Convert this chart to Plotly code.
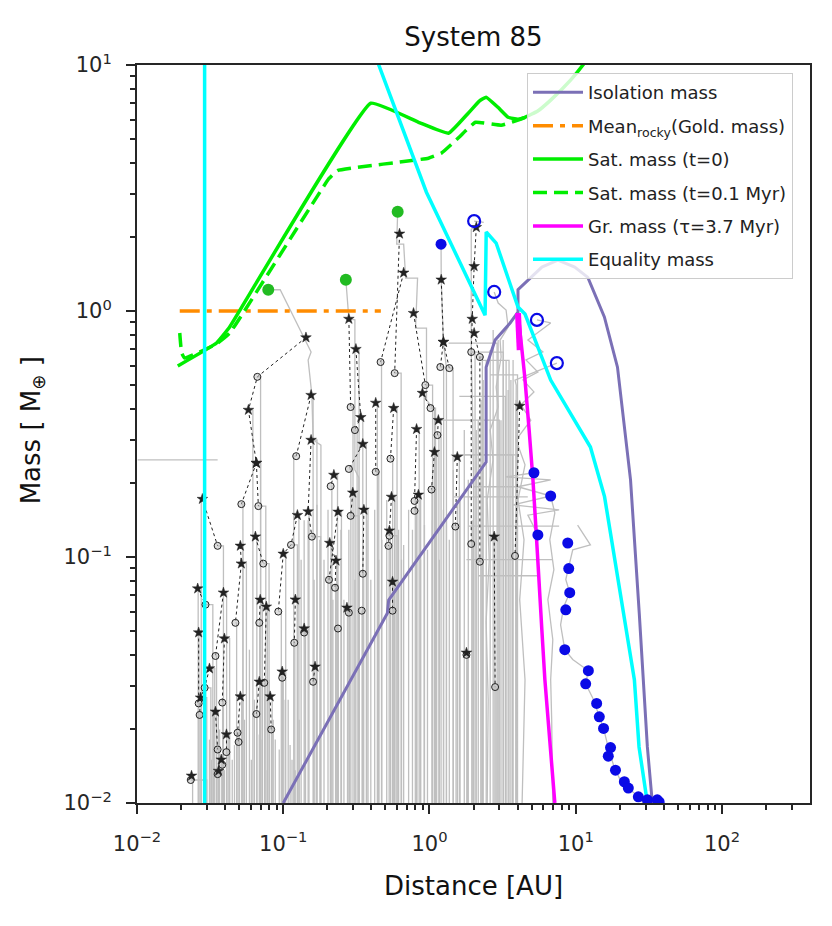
import plotly.graph_objects as go

# ---------------- theory curves ----------------
iso_a = [0.1, 0.515, 0.526, 2.44, 2.44, 2.81, 3.56, 4.03, 4.03, 4.86, 5.87, 7.55, 9.84, 12.1, 15.7, 19.3, 23.7, 27.2, 30.9, 33.4]
iso_m = [0.01, 0.0591, 0.0668, 0.243, 0.591, 0.762, 0.894, 0.99, 1.22, 1.36, 1.509, 1.61, 1.509, 1.37, 0.946, 0.591, 0.206, 0.059, 0.0169, 0.01]

gold_a = [0.0196, 0.465]
gold_m = [1.0, 1.0]

sat0_a = [0.019, 0.035, 0.043, 0.397, 0.842, 1.35, 1.84, 2.2, 2.44, 2.94, 3.45, 4.03, 4.50, 5.5, 6.74, 9.22, 11.2, 13.5]
sat0_m = [0.598, 0.741, 0.861, 6.99, 5.85, 5.28, 6.37, 7.15, 7.40, 6.73, 6.13, 6.02, 6.13, 6.5, 7.20, 8.68, 10.0, 11.8]

sat1_a = [0.0196, 0.0202, 0.0212, 0.035, 0.043, 0.205, 0.235, 0.984, 1.21, 1.6, 2.06, 3.09, 4.03, 4.50]
sat1_m = [0.814, 0.675, 0.644, 0.735, 0.813, 3.45, 3.72, 4.18, 4.39, 5.1, 5.85, 5.69, 5.97, 6.13]

gr_a = [4.03, 4.50, 5.10, 5.59, 6.153, 7.196]
gr_m = [0.98, 0.525, 0.206, 0.0831, 0.0317, 0.01]
gr_thick_a = [4.03, 4.14]
gr_thick_m = [0.98, 0.694]

eq_wall_a = [0.029, 0.029]
eq_wall_m = [0.008, 12.0]
eq_a = [0.43, 0.450, 0.953, 2.40, 2.443, 2.857, 4.03, 4.50, 6.74, 9.22, 12.6, 15.74, 19.3, 25.18, 27.1, 30.9]
eq_m = [11.0, 10.0, 3.04, 0.962, 2.094, 1.889, 1.037, 0.972, 0.524, 0.385, 0.280, 0.176, 0.0831, 0.0317, 0.0169, 0.01]

# ---------------- final planets ----------------
green_a = [0.079, 0.268, 0.606]
green_m = [1.22, 1.34, 2.53]

blue_open_a = [2.02, 2.77, 5.43, 7.43]
blue_open_m = [2.32, 1.195, 0.92, 0.614]

blue_a = [1.20, 5.18, 6.74, 5.51, 8.82, 8.96, 9.10, 8.55, 8.42, 12.2, 11.7, 13.9, 14.5, 15.5, 17.3, 16.7, 18.7, 21.5, 22.9, 26.8, 30.9, 36.1, 37.2]
blue_m = [1.87, 0.22, 0.177, 0.123, 0.114, 0.0897, 0.0716, 0.061, 0.042, 0.0345, 0.0305, 0.0254, 0.0224, 0.0201, 0.0168, 0.0155, 0.0136, 0.0122, 0.0115, 0.0106, 0.0103, 0.0103, 0.0101]

# ---------------- embryo chains: (distance, mass, symbol, track start distance) ----------------
chains = [
    [(0.143, 0.78, 's', None), (0.0665, 0.54, 'c', 0.070), (0.0578, 0.396, 's', 0.062), (0.0655, 0.241, 's', 0.070), (0.0517, 0.164, 'c', 0.053)],
    [(0.0655, 0.241, 's', None), (0.0676, 0.161, 'c', 0.076)],
    [(0.155, 0.455, 's', 0.160), (0.1226, 0.257, 'c', 0.118)],
    [(0.155, 0.299, 's', 0.170), (0.148, 0.153, 's', 0.150), (0.157, 0.121, 'c', 0.180)],
    [(0.125, 0.148, 's', 0.128), (0.113, 0.112, 'c', 0.125), (0.1, 0.103, 's', 0.104), (0.0925, 0.060, 'c', 0.097)],
    [(0.028, 0.172, 's', 0.0275), (0.0356, 0.111, 'c', 0.039)],
    [(0.0645, 0.121, 's', 0.066), (0.073, 0.094, 'c', 0.080)],
    [(0.0509, 0.111, 's', 0.053), (0.0517, 0.094, 's', 0.056), (0.0471, 0.054, 'c', 0.048)],
    [(0.026, 0.0744, 's', 0.0262), (0.0294, 0.064, 'c', 0.033)],
    [(0.039, 0.0716, 's', 0.041), (0.0344, 0.0396, 'c', 0.035)],
    [(0.0696, 0.067, 's', 0.072), (0.0686, 0.054, 'c', 0.069)],
    [(0.0766, 0.0628, 's', 0.078), (0.0742, 0.0308, 'c', 0.0745)],
    [(0.0264, 0.0493, 's', 0.0265), (0.0264, 0.0254, 'c', 0.0275)],
    [(0.0396, 0.0466, 's', 0.043), (0.0383, 0.0256, 'c', 0.0385)],
    [(0.0313, 0.0352, 's', 0.034), (0.029, 0.0294, 'c', 0.032), (0.0272, 0.0268, 's', 0.030), (0.0268, 0.0228, 'c', 0.027)],
    [(0.0344, 0.0235, 's', 0.036), (0.0356, 0.0165, 'c', 0.0365)],
    [(0.0509, 0.0271, 's', 0.052), (0.0487, 0.0193, 'c', 0.049), (0.0495, 0.0177, 'c', 0.050)],
    [(0.0686, 0.0311, 's', 0.070), (0.0655, 0.023, 'c', 0.066)],
    [(0.0984, 0.0342, 's', 0.099), (0.0984, 0.0323, 'c', 0.100)],
    [(0.0814, 0.0271, 's', 0.084), (0.0827, 0.0199, 'c', 0.083)],
    [(0.0409, 0.019, 's', 0.042), (0.0409, 0.0161, 'c', 0.041)],
    [(0.0377, 0.015, 's', 0.038), (0.0383, 0.0143, 'c', 0.0385)],
    [(0.0361, 0.0135, 's', 0.0362), (0.0356, 0.0131, 'c', 0.0358)],
    [(0.0236, 0.0129, 's', 0.024), (0.0233, 0.0124, 'c', 0.030)],
    [(0.139, 0.0512, 's', 0.141), (0.139, 0.0493, 'c', 0.142)],
    [(0.121, 0.0671, 's', 0.125), (0.119, 0.0448, 'c', 0.120)],
    [(0.165, 0.0358, 's', 0.168), (0.160, 0.0311, 'c', 0.162)],
    [(0.281, 0.928, 's', None), (0.289, 0.407, 'c', 0.300)],
    [(0.314, 0.70, 's', 0.330), (0.339, 0.370, 's', 0.350), (0.309, 0.328, 'c', 0.320)],
    [(0.624, 2.06, 's', None), (0.578, 0.559, 'c', 0.640)],
    [(0.666, 1.43, 's', None), (0.463, 0.62, 'c', 0.470)],
    [(0.778, 0.98, 's', None), (0.937, 0.50, 'c', 1.05)],
    [(0.895, 0.464, 's', 0.92), (1.016, 0.403, 'c', 1.10)],
    [(0.429, 0.423, 's', 0.44), (0.429, 0.222, 'c', 0.45)],
    [(0.569, 0.403, 's', 0.60), (0.541, 0.251, 'c', 0.56)],
    [(1.15, 0.36, 's', 1.2), (1.134, 0.313, 'c', 1.16)],
    [(1.081, 0.267, 's', 1.12), (1.032, 0.188, 'c', 1.04)],
    [(1.203, 1.34, 's', None), (1.245, 0.748, 's', None), (1.186, 0.592, 'c', 1.25)],
    [(1.245, 0.748, 's', None), (1.366, 0.586, 'c', 1.45)],
    [(2.09, 2.19, 's', None), (2.02, 1.52, 's', None), (1.96, 0.928, 's', None), (1.93, 0.681, 'c', 2.05), (1.93, 0.113, 'c', 1.95)],
    [(2.02, 0.813, 's', None), (2.21, 0.650, 'c', 2.3), (2.21, 0.0957, 'c', 2.25)],
    [(1.55, 0.255, 's', 1.6), (1.503, 0.133, 'c', 1.52)],
    [(4.14, 0.411, 's', None), (3.846, 0.101, 'c', 3.9)],
    [(2.77, 0.121, 's', 2.8), (2.81, 0.0296, 'c', 2.85)],
    [(1.79, 0.0408, 's', 1.8), (1.79, 0.040, 'c', 1.82)],
    [(0.350, 0.288, 's', 0.37), (0.281, 0.228, 'c', 0.29)],
    [(0.222, 0.2155, 's', 0.235), (0.211, 0.194, 'c', 0.215)],
    [(0.299, 0.1825, 's', 0.31), (0.289, 0.147, 'c', 0.33)],
    [(0.237, 0.1526, 's', 0.25), (0.2055, 0.0808, 'c', 0.21)],
    [(0.356, 0.1555, 's', 0.38), (0.35, 0.0855, 'c', 0.355)],
    [(0.55, 0.1755, 's', 0.58), (0.532, 0.128, 's', 0.54), (0.532, 0.122, 'c', 0.6), (0.524, 0.111, 'c', 0.53)],
    [(0.816, 0.331, 's', 0.85), (0.79, 0.169, 'c', 0.8)],
    [(0.84, 0.179, 's', 0.87), (0.79, 0.154, 'c', 0.82)],
    [(0.208, 0.114, 's', 0.212), (0.2294, 0.0966, 's', 0.232), (0.226, 0.075, 'c', 0.228)],
    [(0.559, 0.0793, 's', 0.565), (0.559, 0.0605, 'c', 0.562)],
    [(0.2726, 0.0622, 's', 0.275), (0.281, 0.0594, 'c', 0.284)],
    [(0.344, 0.0605, 'c', 0.346)],
    [(0.2367, 0.0512, 'c', 0.238)],
]

# growth tracks that rise at a0 and migrate inward to (a1, m1)
tall_a0 = [2.9, 3.2, 3.5, 3.0, 3.7, 4.0, 3.3]
tall_a1 = [1.35, 1.9, 2.3, 1.2, 1.4, 2.6, 1.6]
tall_m1 = [0.74, 0.68, 0.63, 0.36, 0.26, 0.55, 0.45]

# plain vertical growth tracks (distance, top mass)
filler_a = [0.0313, 0.0334, 0.0429, 0.0448, 0.0543, 0.0587, 0.0718, 0.0803, 0.0882, 0.1081, 0.1148, 0.1285,
            0.139, 0.170, 0.190, 0.248, 0.260, 0.329, 0.373, 0.397, 0.472, 0.510, 0.615, 0.666, 0.720,
            0.868, 0.924, 1.099, 1.168, 1.306, 1.456, 1.619, 1.730, 2.155, 2.33, 2.60, 3.19, 3.45, 3.73,
            0.1325, 0.148, 0.1625, 0.178, 0.2024, 0.2186, 0.2367, 0.281, 0.309, 0.350, 0.422, 0.450,
            0.543, 0.578, 0.644, 0.765, 0.816, 0.969, 1.047, 1.245, 1.366, 1.551, 1.842, 1.959, 2.089,
            2.253, 2.443, 2.725, 2.947, 3.082, 3.342, 3.604, 3.908,
            0.0323, 0.0367, 0.0396, 0.0464, 0.0502, 0.0605, 0.0635, 0.0686, 0.0778, 0.0854, 0.0939,
            0.1031, 0.1114, 0.1206]
filler_m = [0.0181, 0.0239, 0.0263, 0.0150, 0.0218, 0.042, 0.0181, 0.0317, 0.0181, 0.0263, 0.015, 0.0218,
            0.141, 0.163, 0.0975, 0.129, 0.0671, 0.102, 0.141, 0.0809, 0.1176, 0.1706, 0.129, 0.112, 0.1555,
            0.0975, 0.135, 0.1706, 0.0975, 0.141, 0.226, 0.1706, 0.328, 0.360, 0.524, 0.694, 0.762, 0.477, 0.632,
            0.0975, 0.141, 0.0809, 0.1176, 0.1555, 0.0671, 0.0975, 0.129, 0.0809, 0.1176, 0.1555, 0.0975,
            0.112, 0.1706, 0.0975, 0.129, 0.163, 0.107, 0.141, 0.1555, 0.1176, 0.1706, 0.206, 0.141, 0.328,
            0.435, 0.632, 0.837, 0.762, 0.360, 0.632, 0.524, 0.435,
            0.0150, 0.0199, 0.0136, 0.0172, 0.0218, 0.0150, 0.0263, 0.0190, 0.0136, 0.0218, 0.0165,
            0.0263, 0.0172, 0.0136]

# horizontal migration segments (mass, from, to)
horiz_m = [0.248, 0.26, 0.193, 0.1755, 0.1334, 0.0975, 0.0839]
horiz_a0 = [0.0101, 1.41, 2.0, 1.46, 1.85, 1.79, 2.16]
horiz_a1 = [0.0356, 4.03, 4.03, 4.7, 7.7, 6.97, 5.5]

# collision / migration histories of the final planets
planet_tracks = [
    [(0.079, 1.22), (0.0953, 1.22), (0.155, 0.681), (0.148, 0.632), (0.157, 0.455), (0.160, 0.299), (0.181, 0.285), (0.181, 0.0095)],
    [(0.268, 1.34), (0.281, 0.928), (0.309, 0.92), (0.309, 0.226), (0.329, 0.21), (0.329, 0.0095)],
    [(0.606, 2.53), (0.597, 1.87), (0.666, 1.87), (0.687, 1.36), (0.829, 1.36), (0.803, 0.852), (0.954, 0.852), (0.954, 0.435), (1.081, 0.396), (1.081, 0.0095)],
    [(1.20, 1.87), (1.203, 1.34), (1.245, 0.748), (1.306, 0.586), (1.306, 0.0095)],
    [(2.02, 2.32), (2.35, 2.29)],
    [(2.09, 2.19), (1.93, 2.15), (1.93, 1.55), (1.93, 0.68), (1.97, 0.40), (2.0, 0.20), (2.0, 0.0095)],
    [(2.77, 1.195), (2.95, 1.077), (3.34, 1.009), (3.45, 0.86), (3.04, 0.762), (3.09, 0.65), (2.857, 0.491), (2.95, 0.407), (2.60, 0.328), (2.72, 0.248), (2.48, 0.1706), (2.56, 0.0975), (2.44, 0.0546), (2.52, 0.0263), (2.48, 0.0095)],
    [(5.43, 0.92), (6.74, 0.894), (4.71, 0.762), (5.96, 0.682), (4.57, 0.632), (5.51, 0.565), (4.36, 0.524), (5.18, 0.469), (4.22, 0.415), (4.93, 0.360), (3.91, 0.299), (4.50, 0.237), (4.03, 0.1706), (4.43, 0.1176), (4.14, 0.0671), (4.50, 0.0317), (4.29, 0.0095)],
    [(7.43, 0.614), (6.63, 0.597), (3.846, 0.524), (3.92, 0.50), (3.90, 0.30), (3.95, 0.0095)],
    [(5.18, 0.22), (3.289, 0.2115), (6.74, 0.206), (4.03, 0.193), (6.74, 0.177), (3.73, 0.163), (7.70, 0.1555), (4.71, 0.148), (5.51, 0.123)],
    [(10.3, 0.1347), (12.6, 0.112), (9.54, 0.107), (8.96, 0.0897), (8.55, 0.081), (9.10, 0.0716), (8.28, 0.0628), (7.88, 0.053), (8.42, 0.042), (9.54, 0.0383), (12.2, 0.0345), (11.7, 0.0305), (13.25, 0.0263), (14.5, 0.0224), (15.5, 0.0201), (16.7, 0.0168), (18.1, 0.0143), (19.9, 0.0126), (22.9, 0.0115), (26.8, 0.0106), (30.9, 0.0095)],
    [(6.74, 0.177), (7.196, 0.151), (6.65, 0.1176), (7.09, 0.0888), (6.45, 0.0671), (6.97, 0.0461), (6.74, 0.0317), (6.85, 0.0218), (6.97, 0.0095)],
]

GREY = "#bfbfbf"
FLOOR = 0.0095

fig = go.Figure()

# grey growth tracks (vertical then horizontal)
vx, vy = [], []
for ch in chains:
    for a, m, s, a0 in ch:
        if a0 is not None:
            vx += [a0, a, None]
            vy += [FLOOR, m, None]
for a0, a1, m1 in zip(tall_a0, tall_a1, tall_m1):
    vx += [a0, a1, None]
    vy += [FLOOR, m1, None]
fig.add_trace(go.Scatter(x=vx, y=vy, mode="lines", line=dict(color=GREY, width=1.3, shape="vh"),
                         hoverinfo="skip", showlegend=False))

lx, ly = [], []
for a, m in zip(filler_a, filler_m):
    lx += [a, a, None]
    ly += [FLOOR, m, None]
for m, a0, a1 in zip(horiz_m, horiz_a0, horiz_a1):
    lx += [a0, a1, None]
    ly += [m, m, None]
for tr in planet_tracks:
    for a, m in tr:
        lx.append(a)
        ly.append(m)
    lx.append(None)
    ly.append(None)
fig.add_trace(go.Scatter(x=lx, y=ly, mode="lines", line=dict(color=GREY, width=1.3),
                         hoverinfo="skip", showlegend=False))

# dotted chains
dx, dy = [], []
for ch in chains:
    if len(ch) > 1:
        for a, m, s, a0 in ch:
            dx.append(a)
            dy.append(m)
        dx.append(None)
        dy.append(None)
fig.add_trace(go.Scatter(x=dx, y=dy, mode="lines", line=dict(color="#222222", width=1, dash="dot"),
                         hoverinfo="skip", showlegend=False))

star_a = [p[0] for ch in chains for p in ch if p[2] == 's']
star_m = [p[1] for ch in chains for p in ch if p[2] == 's']
circ_a = [p[0] for ch in chains for p in ch if p[2] == 'c']
circ_m = [p[1] for ch in chains for p in ch if p[2] == 'c']
fig.add_trace(go.Scatter(x=circ_a, y=circ_m, mode="markers",
                         marker=dict(symbol="circle", size=7, color="rgba(190,190,190,0.5)",
                                     line=dict(color="#222222", width=1)),
                         hoverinfo="skip", showlegend=False))
fig.add_trace(go.Scatter(x=star_a, y=star_m, mode="markers",
                         marker=dict(symbol="star", size=8, color="#222222", line=dict(color="#222222", width=0.5)),
                         hoverinfo="skip", showlegend=False))

# theory curves (legend)
fig.add_trace(go.Scatter(x=iso_a, y=iso_m, mode="lines", name="Isolation mass", legendgroup="g1",
                         line=dict(color="#7b70b6", width=3)))
fig.add_trace(go.Scatter(x=gold_a, y=gold_m, mode="lines", name="Mean<sub>rocky</sub>(Gold. mass)", legendgroup="g2",
                         line=dict(color="#ff8c00", width=3.5, dash="20px,7px,5px,7px")))
fig.add_trace(go.Scatter(x=sat0_a, y=sat0_m, mode="lines", name="Sat. mass (t=0)", legendgroup="g3",
                         line=dict(color="#00ee00", width=3.5, shape="spline", smoothing=0.3)))
fig.add_trace(go.Scatter(x=sat1_a, y=sat1_m, mode="lines", name="Sat. mass (t=0.1 Myr)", legendgroup="g4",
                         line=dict(color="#00ee00", width=3.5, dash="14px,7px", shape="spline", smoothing=0.3)))
fig.add_trace(go.Scatter(x=gr_a, y=gr_m, mode="lines", name="Gr. mass (τ=3.7 Myr)", legendgroup="g5",
                         line=dict(color="#ff00ff", width=3.5, shape="spline", smoothing=0.5)))
fig.add_trace(go.Scatter(x=gr_thick_a, y=gr_thick_m, mode="lines", showlegend=False, legendgroup="g5",
                         line=dict(color="#ff00ff", width=6), hoverinfo="skip"))
fig.add_trace(go.Scatter(x=eq_a, y=eq_m, mode="lines", name="Equality mass", legendgroup="g6",
                         line=dict(color="#00ffff", width=3.5)))
fig.add_trace(go.Scatter(x=eq_wall_a, y=eq_wall_m, mode="lines", showlegend=False, legendgroup="g6",
                         line=dict(color="#00ffff", width=3.5), hoverinfo="skip"))

# final planets
fig.add_trace(go.Scatter(x=green_a, y=green_m, mode="markers", showlegend=False, hoverinfo="skip",
                         marker=dict(symbol="circle", size=12, color="#22bb22", line=dict(width=0))))
fig.add_trace(go.Scatter(x=blue_a, y=blue_m, mode="markers", showlegend=False, hoverinfo="skip",
                         marker=dict(symbol="circle", size=11, color="#0a0ae6", line=dict(width=0))))
fig.add_trace(go.Scatter(x=blue_open_a, y=blue_open_m, mode="markers", showlegend=False, hoverinfo="skip",
                         marker=dict(symbol="circle-open", size=12, color="#0a0ae6", line=dict(width=2.2))))

AX = "#262626"
xt = [0.01, 0.1, 1, 10, 100]
xl = ["10<sup>−2</sup>", "10<sup>−1</sup>", "10<sup>0</sup>", "10<sup>1</sup>", "10<sup>2</sup>"]
yt = [0.01, 0.1, 1, 10]
yl = ["10<sup>−2</sup>", "10<sup>−1</sup>", "10<sup>0</sup>", "10<sup>1</sup>"]
xminor = [k * 10 ** e for e in range(-2, 3) for k in range(2, 10) if k * 10 ** e < 400]
yminor = [k * 10 ** e for e in range(-2, 1) for k in range(2, 10)]

fig.update_xaxes(type="log", range=[-2, 2.602], tickvals=xt, ticktext=xl, ticks="outside", ticklen=9,
                 tickwidth=2, tickcolor=AX, showline=True, linewidth=2, linecolor=AX, mirror=True,
                 showgrid=False, zeroline=False, tickfont=dict(size=21, color=AX), ticklabelstandoff=12,
                 minor=dict(tickvals=xminor, ticks="outside", ticklen=5, tickwidth=1.5, tickcolor=AX, showgrid=False))
fig.update_yaxes(type="log", range=[-2, 1], tickvals=yt, ticktext=yl, ticks="outside", ticklen=9,
                 tickwidth=2, tickcolor=AX, showline=True, linewidth=2, linecolor=AX, mirror=True,
                 showgrid=False, zeroline=False, tickfont=dict(size=21, color=AX), ticklabelstandoff=10,
                 minor=dict(tickvals=yminor, ticks="outside", ticklen=5, tickwidth=1.5, tickcolor=AX, showgrid=False))

fig.update_layout(
    width=832, height=926,
    margin=dict(l=129, r=30, t=57, b=131),
    paper_bgcolor="white", plot_bgcolor="white",
    font=dict(family="DejaVu Sans", color="#111111"),
    title=dict(text="System 85", x=0.5, xref="paper", y=1 - 29 / 926, yanchor="middle", xanchor="center",
               font=dict(size=26, color="#111111")),
    legend=dict(x=0.5795, y=0.989, xanchor="left", yanchor="top", bgcolor="rgba(255,255,255,0.8)",
                bordercolor="#cccccc", borderwidth=1, font=dict(size=18, color="#222222"),
                tracegroupgap=7, itemwidth=50),
    annotations=[
        dict(text="Distance [AU]", x=0.5, y=-0.1125, xref="paper", yref="paper", showarrow=False,
             xanchor="center", yanchor="middle", font=dict(size=26, color="#111111")),
        dict(text="Mass [ M<sub>⊕</sub> ]", x=-0.156, y=0.505, xref="paper", yref="paper", showarrow=False,
             textangle=-90, xanchor="center", yanchor="middle", font=dict(size=26, color="#111111")),
    ],
)

fig.write_html("out.html")
